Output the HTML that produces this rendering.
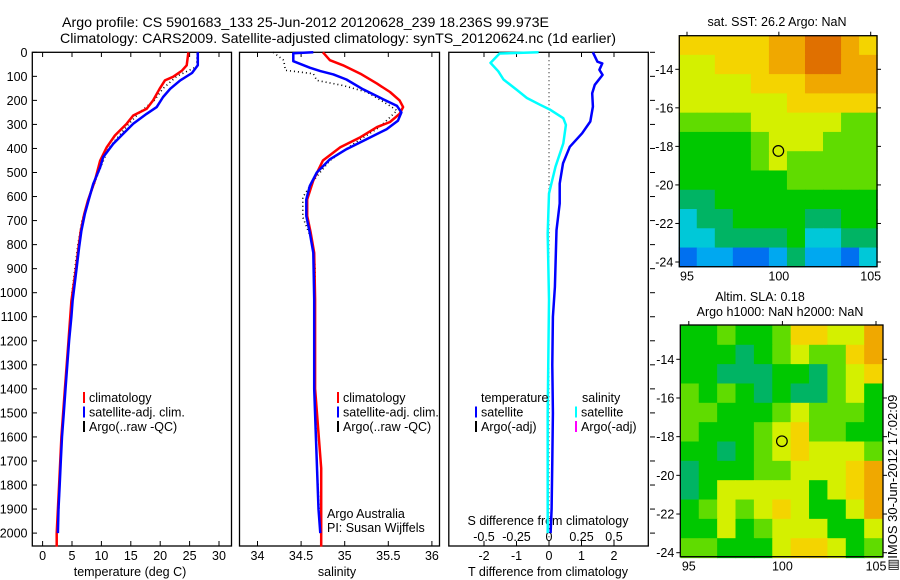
<!DOCTYPE html>
<html><head><meta charset="utf-8"><style>
html,body{margin:0;padding:0;background:#fff;}
svg{display:block;font-family:"Liberation Sans",Arial,sans-serif;}
</style></head><body>
<svg id="fig" width="900" height="580" viewBox="0 0 900 580" xmlns="http://www.w3.org/2000/svg">
<text x="62" y="27" font-size="14" textLength="487" lengthAdjust="spacingAndGlyphs">Argo profile: CS 5901683_133 25-Jun-2012 20120628_239 18.236S 99.973E</text>
<text x="60" y="43" font-size="14" textLength="556" lengthAdjust="spacingAndGlyphs">Climatology: CARS2009. Satellite-adjusted climatology: synTS_20120624.nc (1d earlier)</text>
<g id="layer"></g>
</svg>
<script>
// ---- temperature panel data ----
const tDepthBlue=[0,54,86,117,152,186,228,256,297,339,381,436,478,548,617,672,742,812,895,1034,1100,1200,1300,1400,1500,1600,1700,1800,1900,2000];
const tBlue=[26.4,26.4,25.4,23.4,21.7,20.5,19.4,17.7,15.4,13.7,12.0,10.3,9.8,8.6,7.8,7.2,6.6,6.2,5.8,5.1,4.9,4.5,4.2,3.9,3.6,3.3,3.1,2.9,2.7,2.6];
const tDepthRed=[0,54,76,102,117,152,200,235,263,297,346,395,450,534,617,672,742,812,895,1034,1200,1400,1600,1800,2000,2056];
const tRed=[24.8,24.5,23.7,22.2,20.8,19.9,18.8,17.7,15.4,14.3,12.3,10.9,9.8,8.9,7.7,7.1,6.5,6.1,5.7,4.9,4.4,3.8,3.2,2.8,2.4,2.4];
const tDepthArgo=[5,60,80,100,150,200,250,300,400,500,600,700,800,900,1000,1200,1400,1600,1800,2000];
const tArgo=[26.3,26.2,24.5,22.8,20.5,19.0,16.5,14.6,11.2,9.5,8.0,6.7,6.0,5.5,5.0,4.5,3.9,3.3,2.9,2.6];
// ---- salinity panel data ----
const sDepthBlue=[0,4,37,64,78,92,113,154,195,223,250,285,320,362,403,445,500,556,612,681,751,834,1029,1400,1600,1900,2000];
const sBlue=[34.64,34.41,34.41,34.60,34.72,34.87,35.02,35.21,35.44,35.60,35.65,35.61,35.48,35.25,35.02,34.83,34.68,34.60,34.56,34.56,34.60,34.64,34.65,34.65,34.67,34.70,34.72];
const sDepthRed=[0,33,54,89,130,165,200,228,256,290,311,353,395,450,533,612,681,751,834,1029,1400,1730,2056];
const sRed=[34.75,34.83,34.98,35.18,35.37,35.52,35.63,35.67,35.63,35.52,35.37,35.18,34.95,34.75,34.64,34.57,34.57,34.61,34.65,34.66,34.66,34.73,34.73];
const sDepthArgo=[0,33,75,89,117,138,165,214,242,270,311,381,450,534,603,686,780,890,1029,1400,1700,2000];
const sArgo=[34.18,34.30,34.32,34.64,34.68,34.98,35.25,35.48,35.60,35.52,35.40,35.10,34.83,34.64,34.52,34.52,34.62,34.66,34.66,34.66,34.68,34.72];
// ---- difference panel data ----
const dDepthT=[0,39,46,73,94,135,170,226,288,337,393,462,546,629,740,976,1100,1300,1500,1700,1900,2000];
const dT=[1.35,1.49,1.64,1.55,1.65,1.41,1.33,1.35,1.27,1.02,0.64,0.43,0.33,0.33,0.23,0.18,0.12,0.1,0.12,0.1,0.08,0.05];
const dDepthS=[0,5,44,79,113,155,190,218,239,274,302,379,476,587,754,1029,1500,2000];
const dS=[-0.08,-0.38,-0.45,-0.39,-0.35,-0.25,-0.17,-0.07,0.01,0.11,0.13,0.11,0.05,0.0,-0.01,0.0,-0.01,-0.01];
// ---- tick labels ----
const depthTicks=[0,100,200,300,400,500,600,700,800,900,1000,1100,1200,1300,1400,1500,1600,1700,1800,1900,2000];
const tempTicks=[0,5,10,15,20,25,30];
const salTicks=[34,34.5,35,35.5,36];
const salTickLabels=["34","34.5","35","35.5","36"];
const dTTicks=[-2,-1,0,1,2];
const dSTicks=[-0.5,-0.25,0,0.25,0.5];
const dSTickLabels=["-0.5","-0.25","0","0.25","0.5"];
const latTicks=[-14,-16,-18,-20,-22,-24];
const lonTicks=[95,100,105];
// ---- map data (rows north->south, cols west->east), colour index 0..10 ----
const sstGrid=[
[8,8,8,8,8,9,9,10,10,9,8],
[7,7,8,8,8,9,9,10,10,9,9],
[7,7,7,7,8,8,8,9,9,9,9],
[7,7,7,7,7,7,8,8,8,8,8],
[6,6,6,6,7,7,7,7,7,6,6],
[5,5,5,5,6,7,7,7,6,6,6],
[5,5,5,5,6,7,6,6,6,6,6],
[5,5,5,5,5,5,6,6,6,6,6],
[4,4,5,5,5,5,5,5,5,5,5],
[3,4,4,5,5,5,5,4,4,5,5],
[3,3,4,4,4,4,5,3,3,4,4],
[1,2,2,1,1,2,4,2,2,1,3]];
const slaGrid=[
[5,5,6,5,5,6,8,8,7,7,9],
[5,5,5,4,5,6,7,6,6,8,9],
[5,5,4,4,4,5,5,4,6,7,8],
[6,5,6,5,4,5,4,4,6,7,5],
[6,6,5,5,5,6,7,6,6,6,5],
[6,5,5,5,6,7,8,6,6,5,5],
[5,5,4,5,6,7,8,7,7,7,6],
[4,5,5,5,6,6,7,7,7,8,9],
[4,5,7,7,7,7,7,5,7,8,9],
[5,6,7,6,7,8,7,5,5,7,9],
[5,5,7,5,6,7,7,7,5,5,7],
[6,6,5,5,5,7,8,8,7,5,6]];
const lonMin=94.55, lonMax=105.35, latMax=-12.25, latMin=-24.25;
const argoLon=99.973, argoLat=-18.236;

const NS="http://www.w3.org/2000/svg";
const layer=document.getElementById('layer');
function mk(tag,attrs,parent){const e=document.createElementNS(NS,tag);for(const k in attrs)e.setAttribute(k,attrs[k]);(parent||layer).appendChild(e);return e;}
function txt(x,y,s,size,anchor,name){const t=mk('text',{x:x,y:y,'font-size':size,'text-anchor':anchor||'start'});t.textContent=s;


return t;}
const yD=d=>52.3+d*0.2404;
const xT=t=>42.6+t*5.88;
const xS=s=>257.5+(s-34)*87.2;
const x0=549;
const xDT=v=>x0+v*32.5;
const xDS=v=>x0+v*130;

function line(xs,ds,xf,color,w,dash,name){
  let d='';for(let i=0;i<xs.length;i++){d+=(i?'L':'M')+xf(xs[i]).toFixed(1)+' '+yD(ds[i]).toFixed(1);}
  const p=mk('path',{d:d,fill:'none',stroke:color,'stroke-width':w,'stroke-linejoin':'round'});
  if(dash)p.setAttribute('stroke-dasharray',dash);
  
  
}
function frame(x1,x2,name){const r=mk('rect',{x:x1,y:52.3,width:x2-x1,height:546-52.3,fill:'none',stroke:'#000','stroke-width':1.3});

}

// Panel 1 temperature
frame(32.3,231.5,'temperature-panel-frame');
depthTicks.forEach(d=>{mk('line',{x1:32.3,x2:37,y1:yD(d),y2:yD(d),stroke:'#000'});
 txt(27.5,yD(d)+4.5,String(d),12.5,'end','depth-tick-label');});
tempTicks.forEach(t=>{mk('line',{x1:xT(t),x2:xT(t),y1:546,y2:541,stroke:'#000'});mk('line',{x1:xT(t),x2:xT(t),y1:52.3,y2:57,stroke:'#000'});
 txt(xT(t),560,String(t),12.5,'middle','temperature-tick-label');});
txt(130,576,'temperature (deg C)',12.5,'middle','temperature-axis-title');
line(tArgo,tDepthArgo,xT,'#000',1.6,'1,3','temperature-argo-line');
line(tRed,tDepthRed,xT,'#ff0000',2.5,null,'temperature-climatology-line');
line(tBlue,tDepthBlue,xT,'#0000ff',2.5,null,'temperature-satellite-line');
function legend(x,y,items,prefix){items.forEach((it,i)=>{const r=mk('rect',{x:x,y:y+i*14.5-10,width:2,height:11,fill:it[0]});
 
 
 txt(x+6,y+i*14.5,it[1],12.5,'start',prefix+'-label');});}
legend(83,402,[['#ff0000','climatology'],['#0000ff','satellite-adj. clim.'],['#000','Argo(..raw -QC)']],'temperature-legend');

// Panel 2 salinity
frame(239.5,439.5,'salinity-panel-frame');
salTicks.forEach((s,i)=>{mk('line',{x1:xS(s),x2:xS(s),y1:546,y2:541,stroke:'#000'});mk('line',{x1:xS(s),x2:xS(s),y1:52.3,y2:57,stroke:'#000'});
 txt(xS(s),560,salTickLabels[i],12.5,'middle','salinity-tick-label');});
txt(337,576,'salinity',12.5,'middle','salinity-axis-title');
line(sArgo,sDepthArgo,xS,'#000',1.6,'1,3','salinity-argo-line');
line(sRed,sDepthRed,xS,'#ff0000',2.5,null,'salinity-climatology-line');
line(sBlue,sDepthBlue,xS,'#0000ff',2.5,null,'salinity-satellite-line');
legend(337,402,[['#ff0000','climatology'],['#0000ff','satellite-adj. clim.'],['#000','Argo(..raw -QC)']],'salinity-legend');
txt(327,518,'Argo Australia',12.5,'start','credit-argo-australia');
txt(327,532,'PI: Susan Wijffels',12.5,'start','credit-pi');

// Panel 3 differences
frame(448.8,648.3,'difference-panel-frame');
depthTicks.forEach(d=>{mk('line',{x1:650,x2:655,y1:yD(d),y2:yD(d),stroke:'#000'});});
mk('line',{x1:x0,x2:x0,y1:52.3,y2:546,stroke:'#000','stroke-dasharray':'1,3'});
dTTicks.forEach(v=>{mk('line',{x1:xDT(v),x2:xDT(v),y1:546,y2:541,stroke:'#000'});mk('line',{x1:xDT(v),x2:xDT(v),y1:52.3,y2:57,stroke:'#000'});
 txt(xDT(v),560,String(v),12.5,'middle','t-diff-tick-label');});
txt(548,576,'T difference from climatology',12.5,'middle','t-diff-axis-title');
dSTicks.forEach((v,i)=>{txt(xDS(v),541,dSTickLabels[i],12.5,'middle','s-diff-tick-label');});
txt(548,525,'S difference from climatology',12.5,'middle','s-diff-axis-title');
line(dS,dDepthS,xDS,'#00ffff',2.5,null,'salinity-difference-line');
line(dT,dDepthT,xDT,'#0000ff',2.5,null,'temperature-difference-line');
txt(481,402,'temperature',12.5,'start','diff-legend-temperature-heading');
txt(582,402,'salinity',12.5,'start','diff-legend-salinity-heading');
legend(475,416.5,[['#0000ff','satellite'],['#000','Argo(-adj)']],'diff-legend-temperature');
legend(575,416.5,[['#00ffff','satellite'],['#ff00ff','Argo(-adj)']],'diff-legend-salinity');

// colormap
const stops=['#0038c8','#0070f0','#00a8f0','#00c8d8','#00b464','#00c800','#60dc00','#d4f000','#f4d400','#f0a800','#e07000'];
function drawMap(grid,L,R,T,B,lon95,lon105,lat14,lat24,name){
  const xl=lon=>lon95+(lon-95)*(lon105-lon95)/10;
  const yl=lat=>lat14+(lat+14)*(lat24-lat14)/(-10);
  const rows=grid.length, cols=grid[0].length;
  const dLon=(lonMax-lonMin)/cols, dLat=(latMax-latMin)/rows;
  for(let r=0;r<rows;r++)for(let c=0;c<cols;c++){
    const xa=xl(lonMin+c*dLon), xb=xl(lonMin+(c+1)*dLon), ya=yl(latMax-r*dLat), yb=yl(latMax-(r+1)*dLat);
    const cell=mk('rect',{x:xa.toFixed(2),y:ya.toFixed(2),width:(xb-xa+0.6).toFixed(2),height:(yb-ya+0.6).toFixed(2),fill:stops[grid[r][c]]});
    
    
  }
  const f=mk('rect',{x:L,y:T,width:R-L,height:B-T,fill:'none',stroke:'#000','stroke-width':1.3});
  
  
  latTicks.forEach(v=>{const y=yl(v);mk('line',{x1:L-4,x2:L,y1:y,y2:y,stroke:'#000'});mk('line',{x1:R,x2:R+4,y1:y,y2:y,stroke:'#000'});
    txt(L-6,y+4.5,String(v),12.5,'end',name+'-lat-label');});
  lonTicks.forEach(v=>{const x=xl(v);mk('line',{x1:x,x2:x,y1:T-4,y2:T,stroke:'#000'});
    txt(x,B+14,String(v),12.5,'middle',name+'-lon-label');});
  const c=mk('circle',{cx:xl(argoLon),cy:yl(argoLat),r:5.3,fill:'none',stroke:'#000','stroke-width':1.2});
  
  
}
drawMap(sstGrid,679.3,877,35.7,266.7,687,870.7,69.3,262,'sst-map');
txt(777,26,'sat. SST: 26.2  Argo: NaN',12.5,'middle','sst-map-title');
drawMap(slaGrid,680.3,883,325,556.7,688.8,876,359.3,552.7,'sla-map');
txt(760,301,'Altim. SLA: 0.18',12.5,'middle','sla-map-title');
txt(780,316,'Argo h1000: NaN h2000: NaN',12.5,'middle','sla-map-subtitle');
const v=txt(0,0,'▥IMOS 30-Jun-2012 17:02:09',13,'start','imos-timestamp');
v.setAttribute('transform','translate(897,571) rotate(-90)');
</script>
</body></html>
